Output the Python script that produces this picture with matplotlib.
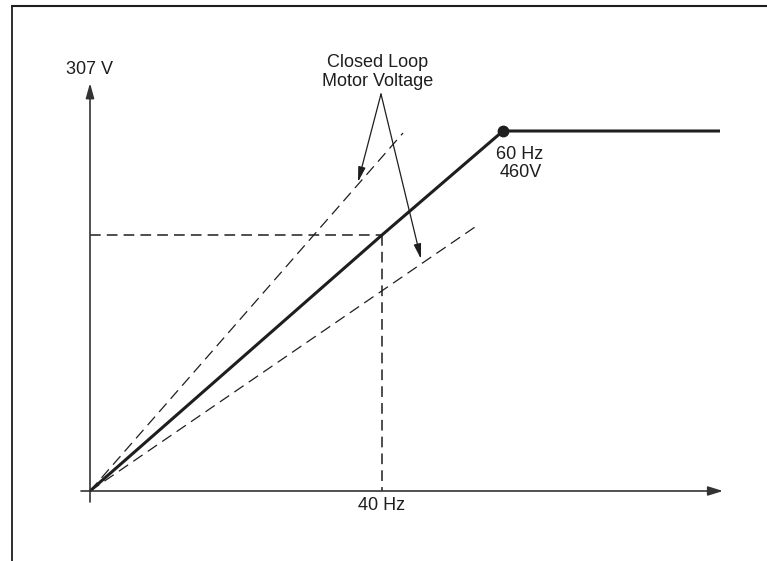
import matplotlib
matplotlib.use("Agg")
import matplotlib.pyplot as plt

plt.rcParams['font.family'] = ['Liberation Sans', 'DejaVu Sans']

# drawing units: origin of the V/Hz axes at (0, 0)
vhz_x = [0, 292, 413, 630]          # 0 Hz, 40 Hz, 60 Hz knee, end of flat part
vhz_y = [0, 256, 360, 360]
knee = (413, 360)
point_40hz = (292, 256)

upper_loop_x = [0, 313]
upper_loop_y = [0, 358]
lower_loop_x = [0, 385]
lower_loop_y = [0, 264]

callout_from = (291, 397)
callout_to = [(268, 309), (331, 232)]

x_axis = (-9, 633)
y_axis = (-11, 408)

ink = '#1e1e1e'

fig = plt.figure(figsize=(7.67, 5.61), dpi=100)
ax = fig.add_axes([0, 0, 1, 1])
ax.set_xlim(-90, 677)
ax.set_ylim(-70, 491)
ax.axis('off')

# frame lines (top and left)
ax.plot([-79, 677], [485, 485], color=ink, lw=1.5, solid_capstyle='butt')
ax.plot([-78, -78], [485, -70], color=ink, lw=1.3, solid_capstyle='butt')

# axes with arrow heads
ax.annotate('', xy=(x_axis[1], 0), xytext=(x_axis[0], 0),
            arrowprops=dict(arrowstyle='-|>,head_length=0.9,head_width=0.28',
                            color='#333333', lw=1.2, shrinkA=0, shrinkB=0,
                            mutation_scale=10))
ax.annotate('', xy=(0, y_axis[1]), xytext=(0, y_axis[0]),
            arrowprops=dict(arrowstyle='-|>,head_length=0.9,head_width=0.25',
                            color='#333333', lw=1.2, shrinkA=0, shrinkB=0,
                            mutation_scale=10))

# guide lines to the 40 Hz point
ax.plot([0, point_40hz[0]], [point_40hz[1], point_40hz[1]], color=ink, lw=1.1,
        dashes=(7, 4))
ax.plot([point_40hz[0], point_40hz[0]], [point_40hz[1], 0], color=ink, lw=1.1,
        dashes=(7, 4))

# closed loop motor voltage
ax.plot(upper_loop_x, upper_loop_y, color=ink, lw=0.9, dashes=(9, 5))
ax.plot(lower_loop_x, lower_loop_y, color=ink, lw=0.9, dashes=(9, 5))

# V/Hz curve
ax.plot(vhz_x, vhz_y, color=ink, lw=2.2, solid_capstyle='butt')
ax.plot(*knee, 'o', color=ink, ms=7.5)

for tip in callout_to:
    ax.annotate('', xy=tip, xytext=callout_from,
                arrowprops=dict(arrowstyle='-|>,head_length=0.9,head_width=0.22',
                                color=ink, lw=0.9, shrinkA=0, shrinkB=0,
                                mutation_scale=10))

fs = 13
ax.text(0, 422, '307 V', ha='center', va='center', fontsize=fs, color=ink)
ax.text(288, 429, 'Closed Loop', ha='center', va='center', fontsize=fs, color=ink)
ax.text(288, 410, 'Motor Voltage', ha='center', va='center', fontsize=fs, color=ink)
ax.text(430, 337, '60 Hz', ha='center', va='center', fontsize=fs, color=ink)
ax.text(431, 319, '460V', ha='center', va='center', fontsize=fs, color=ink)
ax.text(point_40hz[0], -15, '40 Hz', ha='center', va='center', fontsize=fs, color=ink)

fig.savefig('out.png', dpi=100)
